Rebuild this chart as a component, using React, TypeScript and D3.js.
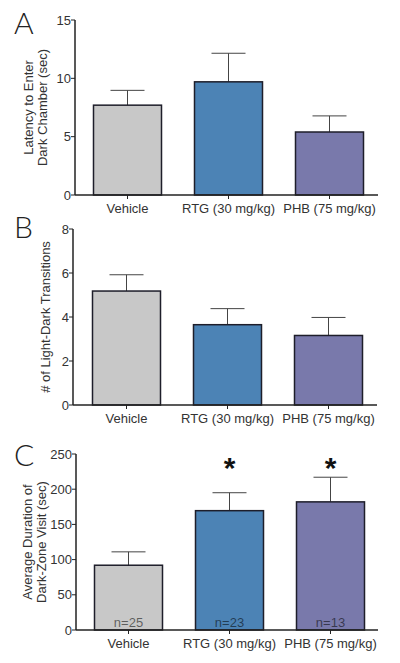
import React from "react";
import * as d3 from "d3";

const categories = ["Vehicle", "RTG (30 mg/kg)", "PHB (75 mg/kg)"];
const colors = ["#c8c8c8", "#4c83b5", "#7979ab"];

const latencyMean = [7.7, 9.7, 5.4];
const latencyErr = [1.27, 2.45, 1.38];
const latencyTicks = [0, 5, 10, 15];

const transMean = [5.18, 3.65, 3.16];
const transErr = [0.74, 0.73, 0.82];
const transTicks = [0, 2, 4, 6, 8];

const durMean = [92, 169.5, 182];
const durErr = [19, 25.5, 35];
const durTicks = [0, 50, 100, 150, 200, 250];
const nLabels = ["n=25", "n=23", "n=13"];
const sigMarks = ["", "*", "*"];

const FONT = "'Liberation Sans', Arial, Helvetica, sans-serif";

type PanelProps = {
  letter: string;
  letterY: number;
  axisX: number;
  top: number;
  bottom: number;
  right: number;
  max: number;
  ticks: number[];
  means: number[];
  errs: number[];
  ylabel: string[];
  ylabelX: number[];
  bandStart: number;
  nText?: string[];
  sig?: string[];
};

function Panel(p: PanelProps) {
  const y = d3.scaleLinear().domain([0, p.max]).range([p.bottom, p.top]);
  const x = d3
    .scaleBand<string>()
    .domain(categories)
    .range([p.bandStart, p.bandStart + 101 * 3])
    .paddingInner(33 / 101)
    .paddingOuter(33 / 202);
  const bw = x.bandwidth();
  const midY = (p.top + p.bottom) / 2;
  return (
    <g>
      <text x={14} y={p.letterY} fontSize={30} fontWeight={300} fontFamily="Lato, 'Open Sans', sans-serif" fill="#222">
        {p.letter}
      </text>
      {p.ylabel.map((l, i) => (
        <text
          key={i}
          transform={`translate(${p.ylabelX[i]},${midY}) rotate(-90)`}
          textAnchor="middle"
          fontSize={13}
          fontFamily={FONT}
          fill="#333"
        >
          {l}
        </text>
      ))}
      {categories.map((c, i) => {
        const x0 = x(c)!;
        const cx = x0 + bw / 2;
        const yt = y(p.means[i]);
        const ye = y(p.means[i] + p.errs[i]);
        return (
          <g key={c}>
            <line x1={cx} x2={cx} y1={yt} y2={ye} stroke="#444" strokeWidth={1} />
            <line x1={cx - 17} x2={cx + 17} y1={ye} y2={ye} stroke="#444" strokeWidth={1} />
            <rect
              x={x0}
              y={yt}
              width={bw}
              height={p.bottom - yt}
              fill={colors[i]}
              stroke="#1e1e2a"
              strokeWidth={1.5}
            />
            <line x1={cx} x2={cx} y1={p.bottom} y2={p.bottom + 4} stroke="#222" strokeWidth={1} />
            <text
              x={cx}
              y={p.bottom + 18}
              textAnchor="middle"
              fontSize={13}
              fontFamily={FONT}
              fill="#333"
            >
              {c}
            </text>
            {p.nText && (
              <text
                x={cx}
                y={p.bottom - 3}
                textAnchor="middle"
                fontSize={13}
                fontFamily={FONT}
                fill="#000"
                fillOpacity={0.55}
              >
                {p.nText[i]}
              </text>
            )}
            {p.sig && p.sig[i] && (
              <text
                x={cx}
                y={y(p.max) + 24}
                textAnchor="middle"
                fontSize={30}
                fontWeight="bold"
                fontFamily={FONT}
                fill="#111"
              >
                {p.sig[i]}
              </text>
            )}
          </g>
        );
      })}
      <line x1={p.axisX} x2={p.axisX} y1={p.top} y2={p.bottom} stroke="#222" strokeWidth={1.5} />
      <line x1={p.axisX} x2={p.right} y1={p.bottom} y2={p.bottom} stroke="#222" strokeWidth={1.5} />
      {p.ticks.map((t) => (
        <g key={t}>
          <line x1={p.axisX - 4} x2={p.axisX} y1={y(t)} y2={y(t)} stroke="#222" strokeWidth={1} />
          <text
            x={p.axisX - 4}
            y={y(t) + 4.5}
            textAnchor="end"
            fontSize={13}
            fontFamily={FONT}
            fill="#333"
          >
            {t}
          </text>
        </g>
      ))}
    </g>
  );
}

export default function App() {
  return (
    <svg width={400} height={663} style={{ position: "absolute", left: 0, top: 0, background: "#fff" }}>
      <rect width={400} height={663} fill="#fff" />
      <Panel
        letter="A"
        letterY={34}
        axisX={75}
        top={20}
        bottom={195}
        right={378}
        max={15}
        ticks={latencyTicks}
        means={latencyMean}
        errs={latencyErr}
        ylabel={["Latency to Enter", "Dark Chamber (sec)"]}
        ylabelX={[33, 47]}
        bandStart={77}
      />
      <Panel
        letter="B"
        letterY={238}
        axisX={73}
        top={229}
        bottom={405}
        right={377}
        max={8}
        ticks={transTicks}
        means={transMean}
        errs={transErr}
        ylabel={["# of Light-Dark Transitions"]}
        ylabelX={[50]}
        bandStart={76}
      />
      <Panel
        letter="C"
        letterY={466}
        axisX={76}
        top={454}
        bottom={630}
        right={378}
        max={250}
        ticks={durTicks}
        means={durMean}
        errs={durErr}
        ylabel={["Average Duration of", "Dark-Zone Visit (sec)"]}
        ylabelX={[32, 46]}
        bandStart={78}
        nText={nLabels}
        sig={sigMarks}
      />
    </svg>
  );
}
